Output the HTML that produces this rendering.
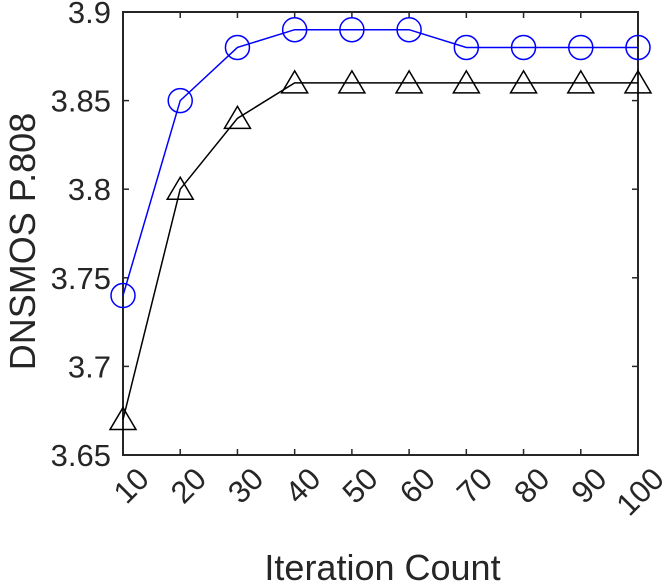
<!DOCTYPE html>
<html><head><meta charset="utf-8"><style>
body{margin:0;background:#fff;}
svg text{font-family:"Liberation Sans",sans-serif;fill:#262626;}
</style></head><body>
<svg id="chart" width="667" height="583" xmlns="http://www.w3.org/2000/svg"></svg>
<script>
const categories=[10,20,30,40,50,60,70,80,90,100];
const seriesBlue=[3.74,3.85,3.88,3.89,3.89,3.89,3.88,3.88,3.88,3.88];
const seriesBlack=[3.67,3.80,3.84,3.86,3.86,3.86,3.86,3.86,3.86,3.86];
const yTicks=[3.65,3.7,3.75,3.8,3.85,3.9];
const yTickLabels=["3.65","3.7","3.75","3.8","3.85","3.9"];
const L=123,R=638,T=12,B=455;
const xs=v=>L+(v-10)/(90)*(R-L);
const ys=v=>B-(v-3.65)/(0.25)*(B-T);
const svg=document.getElementById('chart');
const NS='http://www.w3.org/2000/svg';
function mk(tag,attrs,parent){const e=document.createElementNS(NS,tag);for(const k in attrs)e.setAttribute(k,attrs[k]);(parent||svg).appendChild(e);return e;}
const box=mk('rect',{x:L,y:T,width:R-L,height:B-T,fill:'none',stroke:'#262626','stroke-width':2});


yTicks.forEach((v,i)=>{
 const y=ys(v);
 const t1=mk('line',{x1:L,x2:L+6,y1:y,y2:y,stroke:'#262626','stroke-width':1.5});
 
 
 const t2=mk('line',{x1:R,x2:R-6,y1:y,y2:y,stroke:'#262626','stroke-width':1.5});
 
 
 const tx=mk('text',{x:L-12,y:y+11,'text-anchor':'end','font-size':31});
 tx.textContent=yTickLabels[i];
 
 
});
categories.forEach(c=>{
 const x=xs(c);
 const t1=mk('line',{x1:x,x2:x,y1:B,y2:B-6,stroke:'#262626','stroke-width':1.5});
 
 
 const t2=mk('line',{x1:x,x2:x,y1:T,y2:T+6,stroke:'#262626','stroke-width':1.5});
 
 
 const tx=mk('text',{x:x+12,y:B+10,'text-anchor':'end','font-size':31,transform:`rotate(-45 ${x+12} ${B+10})`,'dominant-baseline':'hanging'});
 tx.textContent=String(c);
 
 
});
const xt=mk('text',{x:(L+R)/2+2,y:580,'text-anchor':'middle','font-size':36});
xt.textContent='Iteration Count';


const yt=mk('text',{x:0,y:0,'text-anchor':'middle','font-size':36,transform:`translate(35 ${(T+B)/2+8}) rotate(-90)`});
yt.textContent='DNSMOS P.808';


const pb=mk('polyline',{points:categories.map((c,i)=>xs(c)+','+ys(seriesBlack[i])).join(' '),fill:'none',stroke:'#000','stroke-width':1.5});


categories.forEach((c,i)=>{
 const x=xs(c),y=ys(seriesBlack[i]);
 const m=mk('polygon',{points:`${x},${y-12} ${x-13},${y+10} ${x+13},${y+10}`,fill:'none',stroke:'#000','stroke-width':1.5});
 
 
});
const pl=mk('polyline',{points:categories.map((c,i)=>xs(c)+','+ys(seriesBlue[i])).join(' '),fill:'none',stroke:'#0000ff','stroke-width':1.5});


categories.forEach((c,i)=>{
 const m=mk('circle',{cx:xs(c),cy:ys(seriesBlue[i]),r:12,fill:'none',stroke:'#0000ff','stroke-width':1.5});
 
 
});
</script>
</body></html>
